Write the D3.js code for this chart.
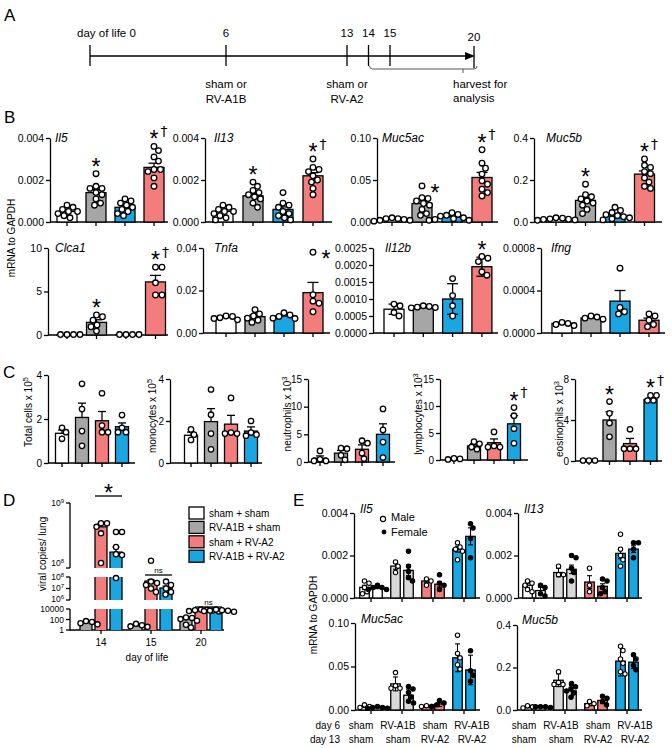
<!DOCTYPE html>
<html>
<head>
<meta charset="utf-8">
<script src="https://cdn.jsdelivr.net/npm/d3@7"></script>
<style>
 html,body{margin:0;padding:0;background:#fff;}
 svg{display:block;}
 text{font-family:"Liberation Sans", Arial, Helvetica, sans-serif; fill:#000;}
</style>
</head>
<body>
<svg id="fig" width="672" height="748"></svg>
<script>
// ===================== DATA =====================
// Panel A – timeline
const timelineDays = [0, 6, 13, 14, 15, 20];
const timelineTickLabels = ["day of life 0", "6", "13", "14", "15", "20"];
const infectionDays = [6, 13];
const infectionLabels = [["sham or", "RV-A1B"], ["sham or", "RV-A2"]];
const harvestDays = [14, 20];
const harvestLabel = ["harvest for", "analysis"];

// Groups (legend)
const groupNames = ["sham + sham", "RV-A1B + sham", "sham + RV-A2", "RV-A1B + RV-A2"];
const groupColors = ["#ffffff", "#a6a6a6", "#f37d7d", "#1aa6e0"];

// Panel B – bar colours in drawing order
const bColors = ["#ffffff", "#a6a6a6", "#1aa6e0", "#f37d7d"];
const il5Mean = [0.0005, 0.0014, 0.0007, 0.0026];
const il5Err = [0.00008, 0.00015, 0.00009, 0.0002];
const il5Pts = [[0.0008,0.0007,0.0006,0.0005,0.0005,0.0004,0.0003,0.0002],
  [0.0023,0.0017,0.0016,0.0016,0.0014,0.0013,0.0011,0.0009,0.0008],
  [0.0011,0.001,0.0009,0.0008,0.0007,0.0006,0.0005,0.0004,0.0003],
  [0.0036,0.0034,0.0031,0.0029,0.0025,0.0025,0.0024,0.0021,0.0017]];
const il5Sig = ["", "*", "", "*†"];

const il13Mean = [0.0005, 0.00125, 0.0006, 0.0022];
const il13Err = [0.00008, 0.00012, 0.00012, 0.00015];
const il13Pts = [[0.0008,0.0007,0.0006,0.0005,0.0005,0.0004,0.0003,0.0002,0.0001],
  [0.0019,0.0017,0.0015,0.0014,0.0013,0.0012,0.0011,0.0009,0.0007],
  [0.0014,0.0009,0.0008,0.0007,0.0005,0.0004,0.0003,0.0002,0.0001],
  [0.003,0.0026,0.0025,0.0024,0.0022,0.002,0.0019,0.0016,0.0013]];
const il13Sig = ["", "*", "", "*†"];

const muc5acMean = [0.003, 0.022, 0.006, 0.053];
const muc5acErr = [0.0005, 0.003, 0.001, 0.006];
const muc5acPts = [[0.005,0.004,0.004,0.003,0.002,0.002,0.001],
  [0.043,0.029,0.028,0.025,0.022,0.02,0.015,0.01,0.008],
  [0.011,0.009,0.008,0.007,0.005,0.004,0.003,0.002,0.002],
  [0.086,0.07,0.064,0.057,0.049,0.045,0.039,0.035,0.031]];
const muc5acSig = ["", "*", "", "*†"];

const muc5bMean = [0.015, 0.103, 0.035, 0.228];
const muc5bErr = [0.002, 0.012, 0.006, 0.015];
const muc5bPts = [[0.02,0.018,0.015,0.013,0.012,0.01,0.008],
  [0.18,0.13,0.12,0.11,0.1,0.09,0.08,0.06,0.04],
  [0.07,0.055,0.045,0.035,0.03,0.025,0.02,0.015,0.01],
  [0.3,0.27,0.26,0.24,0.23,0.21,0.19,0.17,0.16]];
const muc5bSig = ["", "*", "", "*†"];

const clca1Mean = [0.05, 1.45, 0.05, 6.1];
const clca1Err = [0, 0.3, 0, 0.75];
const clca1Pts = [[0.05,0.05,0.05,0.05],[2.3,2.1,1.7,1.15,0.95,0.45],[0.05,0.05,0.05,0.05],[7.8,7.8,6.0,4.6,4.6]];
const clca1Sig = ["", "*", "", "*†"];

const tnfaMean = [0.0073, 0.0077, 0.008, 0.019];
const tnfaErr = [0.0004, 0.0008, 0.0006, 0.0048];
const tnfaPts = [[0.008,0.0078,0.0072,0.0068,0.0062],[0.011,0.009,0.008,0.007,0.006,0.005],
  [0.0095,0.0085,0.0078,0.007,0.0068],[0.038,0.018,0.015,0.014,0.01]];
const tnfaSig = ["", "", "", "*"];

const il12bMean = [0.0007, 0.00077, 0.001, 0.00195];
const il12bSD = [0.00015, 0.00003, 0.00045, 0.00028];
const il12bPts = [[0.00085,0.0008,0.0006,0.0005],[0.0008,0.00078,0.00076,0.00075,0.00074],
  [0.0016,0.0011,0.0008,0.0005],[0.00225,0.0022,0.0021,0.0018,0.0017]];
const il12bSig = ["", "", "", "*"];

const ifngMean = [0.00009, 0.00014, 0.0003, 0.00012];
const ifngErr = [0.00001, 0.00001, 0.0001, 0.00002];
const ifngPts = [[0.0001,0.00009,0.00008,0.00007],[0.00016,0.00015,0.00014,0.00013],
  [0.00061,0.00024,0.0002,0.00018],[0.00018,0.00016,0.00012,0.00008,0.00006]];

// Panel C – order: sham+sham, RV-A1B+sham, sham+RV-A2, RV-A1B+RV-A2
const cColors = ["#ffffff", "#a6a6a6", "#f37d7d", "#1aa6e0"];
const totalMean = [1.35, 2.07, 1.92, 1.65];
const totalErr = [0.15, 0.65, 0.42, 0.17];
const totalPts = [[1.6,1.4,1.1],[3.6,2.45,1.45,0.78],[3.17,1.7,1.4,1.4],[2.18,1.6,1.4,1.4]];
const monoMean = [1.32, 1.97, 1.85, 1.52];
const monoErr = [0.15, 0.62, 0.42, 0.2];
const monoPts = [[1.6,1.35,1.1],[3.5,2.3,1.4,0.65],[3.1,1.45,1.4,1.4],[2.0,1.45,1.35,1.3]];
const neutMean = [0.7, 1.6, 2.3, 5.0];
const neutErr = [0.4, 0.5, 0.8, 1.9];
const neutPts = [[2.0,0.5,0.2,0.2],[2.5,2.4,1.2,0.4],[3.85,3.4,1.6,0.6],[9.6,5.8,3.6,0.8]];
const lymphMean = [0.2, 2.6, 3.2, 6.7];
const lymphErr = [0.05, 0.4, 0.7, 1.5];
const lymphPts = [[0.3,0.2,0.1],[3.4,3.0,2.4,2.0],[5.2,2.6,2.4,2.4],[9.7,8.2,5.8,3.1]];
const lymphSig = ["", "", "", "*†"];
const eosMean = [0.05, 4.0, 1.7, 6.0];
const eosErr = [0, 0.8, 0.5, 0.15];
const eosPts = [[0.05,0.05,0.05],[5.8,4.65,3.7,2.36],[3.1,1.2,1.2,1.2],[6.4,6.4,5.9,5.9]];
const eosSig = ["", "*", "", "*†"];

// Panel D – viral copies per lung (series: RV-A1B+sham, sham+RV-A2, RV-A1B+RV-A2)
const dDays = ["14", "15", "20"];
const dColors = ["#a6a6a6", "#f37d7d", "#1aa6e0"];
const dMean = [[25, 6.7e8, 3.2e8], [6, 4.5e7, 1.1e7], [160, 6300, 5000]];
const dErr = [[15, 0.5e8, 0.7e8], [4, 1.5e7, 0.5e7], [90, 1800, 1500]];
const dPts = [
  [[50, 35, 20, 12], [7.2e8, 7.2e8, 6.7e8, 5.8e8, 1.7e8], [6.0e8, 6.0e8, 3.9e8, 2.9e8, 2.8e8, 8e7]],
  [[15, 8, 5, 4], [2e8, 4e7, 3e7, 2e7, 1e7, 5e6], [4e7, 2e7, 1e7, 5e6, 3e6]],
  [[250, 200, 120, 60, 10, 3], [8000, 7000, 6000, 5000, 4000, 3500], [8000, 6000, 5000, 4500, 4000, 3000]]
];
const dSig = ["*", "ns", "ns"];

// Panel E – per pair: Male, Female
const eColors = ["#ffffff", "#d9d9d9", "#f37d7d", "#1aa6e0"];
const eDay6 = ["sham", "RV-A1B", "sham", "RV-A1B"];
const eDay13 = ["sham", "sham", "RV-A2", "RV-A2"];
const eIl5Mean = [0.0005, 0.00048, 0.0015, 0.0013, 0.0008, 0.00065, 0.0023, 0.0029];
const eIl5SD = [0.0001, 0.00004, 0.00015, 0.00025, 0.00008, 0.00013, 0.00014, 0.0004];
const eIl5Pts = [[0.0008,0.0007,0.0005,0.0003,0.0002],[0.0006,0.0005,0.0005,0.0004,0.0004],
  [0.0017,0.0015,0.0012],[0.0022,0.0015,0.00125,0.00095,0.0008],
  [0.0009,0.0008,0.0006],[0.0011,0.0007,0.0006,0.0004],
  [0.0026,0.0024,0.0023,0.0022,0.0018],[0.0035,0.0033,0.0028,0.0019]];
const eIl13Mean = [0.0006, 0.00035, 0.0012, 0.00135, 0.00075, 0.00055, 0.0021, 0.0023];
const eIl13SD = [0.0001, 0.00015, 0.0002, 0.0002, 0.0003, 0.00012, 0.00025, 0.00016];
const eIl13Pts = [[0.0008,0.0007,0.0006,0.0004,0.0003],[0.0006,0.0005,0.0002,0.0001],
  [0.0015,0.0011,0.0011],[0.002,0.0019,0.0014,0.0012,0.0008],
  [0.0014,0.0006,0.0003],[0.0009,0.0008,0.0005,0.0003,0.0002],
  [0.003,0.0023,0.002,0.0018,0.0015],[0.0026,0.0026,0.0023,0.0019]];
const eMuc5acMean = [0.004, 0.003, 0.03, 0.017, 0.004, 0.007, 0.06, 0.046];
const eMuc5acSD = [0.001, 0.0005, 0.008, 0.007, 0.0005, 0.003, 0.016, 0.017];
const eMuc5acPts = [[0.006,0.004,0.003],[0.004,0.003,0.003,0.002,0.002],
  [0.043,0.028,0.025,0.025],[0.027,0.024,0.02,0.015,0.01,0.008],
  [0.005,0.004,0.004],[0.011,0.008,0.006,0.004],
  [0.086,0.065,0.06,0.052,0.047],[0.068,0.045,0.04,0.033]];
const eMuc5bMean = [0.015, 0.015, 0.14, 0.09, 0.03, 0.045, 0.23, 0.225];
const eMuc5bSD = [0.005, 0.002, 0.03, 0.025, 0.01, 0.015, 0.07, 0.03];
const eMuc5bPts = [[0.02,0.015,0.01],[0.015,0.015,0.015,0.012],
  [0.18,0.13,0.12,0.12],[0.125,0.11,0.1,0.09,0.08,0.06],
  [0.04,0.03,0.02],[0.065,0.055,0.04,0.025],
  [0.3,0.28,0.24,0.22,0.18,0.17],[0.26,0.24,0.21,0.19]];

// ===================== DRAWING =====================
const svg = d3.select("#fig");
const SW = 1.3;

function txt(g, x, y, s, o = {}) {
  const t = g.append("text").attr("x", x).attr("y", y).text(s).style("font-size", (o.fs || 11) + "px");
  if (o.anchor) t.attr("text-anchor", o.anchor);
  if (o.italic) t.style("font-style", "italic");
  return t;
}
function line(g, x1, y1, x2, y2, w = SW) {
  return g.append("line").attr("x1", x1).attr("y1", y1).attr("x2", x2).attr("y2", y2)
    .attr("stroke", "#000").attr("stroke-width", w);
}
function styleAxis(a, fs) {
  a.attr("font-family", null).attr("font-size", null);
  a.select(".domain").attr("stroke", "#000").attr("stroke-width", SW);
  a.selectAll(".tick line").attr("stroke", "#000").attr("stroke-width", SW);
  a.selectAll(".tick text").attr("fill", "#000").style("font-size", fs + "px");
}
function swarm(ys, r) {
  const order = d3.range(ys.length).sort((a, b) => ys[a] - ys[b]);
  const placed = [], off = new Array(ys.length).fill(0), dmin = 1.75 * r;
  for (const i of order) {
    let best = 0;
    for (let k = 0; k < 400; k++) {
      const c = (k % 2 ? 1 : -1) * Math.ceil(k / 2) * 0.5;
      if (placed.every(p => (p.x - c) ** 2 + (p.y - ys[i]) ** 2 >= dmin * dmin)) { best = c; break; }
    }
    off[i] = best; placed.push({ x: best, y: ys[i] });
  }
  return off;
}
function star(g, cx, cy, dagger) {
  g.append("text").attr("x", cx).attr("y", cy + 13).attr("text-anchor", "middle").style("font-size", "23px").text("*");
  if (dagger) g.append("text").attr("x", cx + 10).attr("y", cy + 1.5).attr("text-anchor", "middle")
    .style("font-size", "14px").style("font-family", "'DejaVu Sans', sans-serif").text("†");
}
function rotLabel(g, x, y, main, sup, fs) {
  const t = g.append("text").attr("transform", `translate(${x},${y}) rotate(-90)`)
    .attr("text-anchor", "middle").style("font-size", fs + "px");
  t.append("tspan").text(main);
  if (sup) t.append("tspan").attr("dy", -fs * 0.45).style("font-size", (fs * 0.75) + "px").text(sup);
  return t;
}
function panelLetter(x, y, s) { txt(svg, x, y, s, { fs: 17 }); }

function barPanel(o) {
  const g = svg.append("g");
  const n = o.means.length;
  const x = d3.scalePoint().domain(d3.range(n)).range([o.c0, o.c0 + o.step * (n - 1)]);
  const y = d3.scaleLinear().domain([0, o.max]).range([o.yB, o.yT]);
  const ax = g.append("g").attr("transform", `translate(${o.x0},0)`)
    .call(d3.axisLeft(y).tickValues(o.ticks).tickFormat(d3.format(o.fmt)).tickSize(4).tickSizeOuter(0).tickPadding(2));
  styleAxis(ax, o.fs || 10.5);
  line(g, o.x0, o.yB, o.xEnd, o.yB);
  x.domain().forEach(i => line(g, x(i), o.yB, x(i), o.yB + 4));
  g.selectAll("rect.bar").data(o.means).join("rect").attr("class", "bar")
    .attr("x", (d, i) => x(i) - o.bw / 2).attr("y", d => y(d))
    .attr("width", o.bw).attr("height", d => o.yB - y(d))
    .attr("fill", (d, i) => o.colors[i]).attr("stroke", "#000").attr("stroke-width", SW);
  const cap = o.cap || o.bw * 0.55;
  o.means.forEach((m, i) => {
    const e = o.errs[i]; if (!e) return;
    const yt = y(m + e), yb = o.both ? y(Math.max(0, m - e)) : y(m);
    line(g, x(i), yb, x(i), yt);
    line(g, x(i) - cap / 2, yt, x(i) + cap / 2, yt);
    if (o.both) line(g, x(i) - cap / 2, yb, x(i) + cap / 2, yb);
  });
  const r = o.r || 2.8;
  o.pts.forEach((arr, i) => {
    const ys = arr.map(v => y(v));
    const off = swarm(ys, r + SW / 2);
    g.selectAll(null).data(arr).join("circle")
      .attr("cx", (d, k) => x(i) + off[k]).attr("cy", d => y(d)).attr("r", r)
      .attr("fill", "#fff").attr("stroke", "#000").attr("stroke-width", SW);
  });
  if (o.label) txt(g, o.lx, o.ly, o.label, { fs: 12, italic: true });
  if (o.sig) o.sig.forEach((s, i) => {
    if (!s) return;
    const top = d3.min(o.pts[i], v => y(v));
    if (o.sideIdx === i) star(g, x(i) + 13, top + 2, false);
    else star(g, x(i), top - 12, s.includes("†"));
  });
  return { g, x, y };
}

// ---------- Panel A ----------
panelLetter(4, 21, "A");
(function () {
  const g = svg.append("g");
  const tx = d3.scaleLinear().domain([0, 6, 13, 15, 20]).range([90, 226, 347, 390, 474]);
  const ly = 56;
  line(g, tx(0), ly, tx(20) - 6, ly, 1.6);
  g.append("path").attr("d", `M${tx(20) + 1},${ly} L${tx(20) - 9},${ly - 4} L${tx(20) - 9},${ly + 4} Z`).attr("fill", "#000");
  timelineDays.forEach((d, i) => {
    const last = d === 20;
    line(g, tx(d), last ? 46 : 45, tx(d), last ? 68 : 66, 1.3);
    if (i === 0) txt(g, tx(d) - 13, 37, timelineTickLabels[i], { fs: 11.5 });
    else txt(g, tx(d), last ? 41 : 37, timelineTickLabels[i], { fs: 11.5, anchor: "middle" });
  });
  infectionDays.forEach((d, i) => {
    txt(g, tx(d), 88, infectionLabels[i][0], { fs: 11.5, anchor: "middle" });
    txt(g, tx(d), 103, infectionLabels[i][1], { fs: 11.5, anchor: "middle" });
  });
  const bx0 = tx(harvestDays[0]) + 1, bx1 = tx(harvestDays[1]) + 3, by = 69;
  g.append("path").attr("d", `M${bx0},${by - 3} Q${bx0},${by} ${bx0 + 3},${by} L${bx1 - 3},${by} Q${bx1},${by} ${bx1},${by - 3}`)
    .attr("fill", "none").attr("stroke", "#555").attr("stroke-width", 1);
  line(g, bx1 - 14, by, bx1 - 14, by + 4, 1).attr("stroke", "#555");
  txt(g, bx1 - 24, 88, harvestLabel[0], { fs: 11.5 });
  txt(g, bx1 - 24, 102, harvestLabel[1], { fs: 11.5 });
})();

// ---------- Panel B ----------
panelLetter(4, 123, "B");
rotLabel(svg, 15, 238, "mRNA  to GAPDH", null, 10);
barPanel({ x0: 50, xEnd: 168, c0: 67, step: 29, bw: 20, yB: 222, yT: 138, max: 0.004, ticks: [0, 0.002, 0.004], fmt: ".3f",
  means: il5Mean, errs: il5Err, pts: il5Pts, colors: bColors, label: "Il5", lx: 55, ly: 142, sig: il5Sig });
barPanel({ x0: 205, xEnd: 332, c0: 223, step: 30, bw: 20, yB: 222, yT: 138, max: 0.004, ticks: [0, 0.002, 0.004], fmt: ".3f",
  means: il13Mean, errs: il13Err, pts: il13Pts, colors: bColors, label: "Il13", lx: 214, ly: 142, sig: il13Sig });
barPanel({ x0: 377, xEnd: 498, c0: 392, step: 30, bw: 20, yB: 222, yT: 138, max: 0.10, ticks: [0, 0.05, 0.10], fmt: ".2f",
  means: muc5acMean, errs: muc5acErr, pts: muc5acPts, colors: bColors, label: "Muc5ac", lx: 382, ly: 142, sig: muc5acSig, sideIdx: 1 });
barPanel({ x0: 534, xEnd: 662, c0: 556, step: 29.5, bw: 20, yB: 222, yT: 138, max: 0.4, ticks: [0, 0.2, 0.4], fmt: ".1f",
  means: muc5bMean, errs: muc5bErr, pts: muc5bPts, colors: bColors, label: "Muc5b", lx: 546, ly: 142, sig: muc5bSig });
barPanel({ x0: 48, xEnd: 168, c0: 67, step: 29.5, bw: 20, yB: 335, yT: 248, max: 10, ticks: [0, 5, 10], fmt: "d",
  means: clca1Mean, errs: clca1Err, pts: clca1Pts, colors: bColors, label: "Clca1", lx: 55, ly: 252, sig: clca1Sig });
barPanel({ x0: 203, xEnd: 330, c0: 226, step: 29, bw: 20, yB: 333, yT: 248, max: 0.04, ticks: [0, 0.02, 0.04], fmt: ".2f",
  means: tnfaMean, errs: tnfaErr, pts: tnfaPts, colors: bColors, label: "Tnfa", lx: 214, ly: 252, sig: tnfaSig, sideIdx: 3 });
barPanel({ x0: 373, xEnd: 498, c0: 394, step: 29.3, bw: 20, yB: 333, yT: 248, max: 0.0025,
  ticks: [0, 0.0005, 0.001, 0.0015, 0.002, 0.0025], fmt: ".4f", both: true,
  means: il12bMean, errs: il12bSD, pts: il12bPts, colors: bColors, label: "Il12b", lx: 385, ly: 252, sig: il12bSig });
barPanel({ x0: 541, xEnd: 665, c0: 562, step: 29, bw: 20, yB: 333, yT: 248, max: 0.0008, ticks: [0, 0.0004, 0.0008], fmt: ".4f",
  means: ifngMean, errs: ifngErr, pts: ifngPts, colors: bColors, label: "Ifng", lx: 551, ly: 252 });

// ---------- Panel C ----------
panelLetter(3, 378, "C");
const cCommon = { bw: 13, fs: 10, r: 2.7, cap: 8 };
barPanel(Object.assign({ x0: 48, xEnd: 135, c0: 62, step: 20, yB: 463, yT: 375, max: 4, ticks: [0, 2, 4], fmt: "d",
  means: totalMean, errs: totalErr, pts: totalPts, colors: cColors }, cCommon));
rotLabel(svg, 32, 412, "Total cells x 10", "5", 10);
barPanel(Object.assign({ x0: 170, xEnd: 262, c0: 191, step: 20, yB: 463, yT: 379, max: 4, ticks: [0, 2, 4], fmt: "d",
  means: monoMean, errs: monoErr, pts: monoPts, colors: cColors }, cCommon));
rotLabel(svg, 156, 416, "monocytes x 10", "5", 10);
barPanel(Object.assign({ x0: 308, xEnd: 395, c0: 320, step: 21, yB: 462, yT: 379, max: 15, ticks: [0, 5, 10, 15], fmt: "d",
  means: neutMean, errs: neutErr, pts: neutPts, colors: cColors }, cCommon));
rotLabel(svg, 291, 414, "neutrophils x 10", "3", 10);
barPanel(Object.assign({ x0: 440, xEnd: 528, c0: 454, step: 20, yB: 460, yT: 379, max: 15, ticks: [0, 5, 10, 15], fmt: "d",
  means: lymphMean, errs: lymphErr, pts: lymphPts, colors: cColors, sig: lymphSig }, cCommon));
rotLabel(svg, 422, 414, "lymphocytes x 10", "3", 10);
barPanel(Object.assign({ x0: 575, xEnd: 662, c0: 589, step: 20.5, yB: 461, yT: 379, max: 8, ticks: [0, 4, 8], fmt: "d",
  means: eosMean, errs: eosErr, pts: eosPts, colors: cColors, sig: eosSig }, cCommon));
rotLabel(svg, 563, 419, "eosinophils x 10", "3", 10);

// ---------- Panel D ----------
panelLetter(3, 506, "D");
(function () {
  const g = svg.append("g");
  const x0 = 70;
  const xd = d3.scaleBand().domain(dDays).range([76, 226]);
  const xs = d3.scalePoint().domain([0, 1, 2]).range([-15, 15]);
  const cx = (di, sj) => xd(dDays[di]) + xd.bandwidth() / 2 + xs(sj);
  const segs = [
    { s: d3.scaleLinear().domain([1e8, 1e9]).range([568, 503]), lo: 1e8, hi: 1e9, ticks: [1e8, 1e9], sup: true, shift: [-2, 3] },
    { s: d3.scaleLog().domain([1e6, 1e8]).range([600, 577]), lo: 1e6, hi: 1e8, ticks: [1e6, 1e7, 1e8], sup: true, shift: [2, 2.5, 3] },
    { s: d3.scaleLog().domain([1, 1e4]).range([630, 609]), lo: 1, hi: 1e4, ticks: [1, 100, 1e4], sup: false, shift: [3, 3, 3] }
  ];
  const segOf = v => v >= 1e8 ? segs[0] : v >= 1e6 ? segs[1] : segs[2];
  const yOf = v => segOf(v).s(v);
  segs.forEach(sg => {
    line(g, x0, sg.s(sg.lo) + (sg === segs[2] ? 0.6 : 0), x0, sg.s(sg.hi));
    sg.ticks.forEach((t, ti) => {
      line(g, x0 - 4, sg.s(t), x0, sg.s(t));
      const yy = sg.s(t) + sg.shift[ti];
      if (sg.sup) {
        const tt = g.append("text").attr("x", x0 - 6).attr("y", yy).attr("text-anchor", "end").style("font-size", "8.5px");
        tt.append("tspan").text("10");
        tt.append("tspan").attr("dy", -3).style("font-size", "6px").text(String(Math.round(Math.log10(t))));
      } else {
        txt(g, x0 - 6, yy, String(t), { fs: 8.5, anchor: "end" });
      }
    });
  });
  line(g, x0, 630, 224, 630);
  dDays.forEach((d, i) => {
    const c = xd(d) + xd.bandwidth() / 2;
    line(g, c, 630, c, 634);
    txt(g, c, 646, d, { fs: 10, anchor: "middle" });
  });
  txt(g, 147, 661, "day of life", { fs: 10, anchor: "middle" });
  rotLabel(g, 46, 554, "viral copies/ lung", null, 10);
  const bw = 12;
  dMean.forEach((row, di) => row.forEach((v, sj) => {
    const x = cx(di, sj);
    segs.forEach(sg => {
      if (v <= sg.lo) return;
      const yt = sg.s(Math.min(v, sg.hi)), yb = sg.s(sg.lo);
      g.append("rect").attr("x", x - bw / 2).attr("y", yt).attr("width", bw).attr("height", yb - yt).attr("fill", dColors[sj]);
      line(g, x - bw / 2, yb, x - bw / 2, yt);
      line(g, x + bw / 2, yb, x + bw / 2, yt);
      if (v <= sg.hi) line(g, x - bw / 2 - SW / 2, yt, x + bw / 2 + SW / 2, yt);
    });
    const e = dErr[di][sj];
    const sg = segOf(v);
    const yt = sg.s(Math.min(v + e, sg.hi));
    line(g, x, sg.s(v), x, yt);
    line(g, x - 3.5, yt, x + 3.5, yt);
  }));
  dPts.forEach((row, di) => row.forEach((arr, sj) => {
    const ys = arr.map(yOf);
    const off = swarm(ys, 2.6 + SW / 2);
    g.selectAll(null).data(arr).join("circle")
      .attr("cx", (d, k) => cx(di, sj) + off[k]).attr("cy", d => yOf(d)).attr("r", 2.6)
      .attr("fill", "#fff").attr("stroke", "#000").attr("stroke-width", SW);
  }));
  dSig.forEach((s, di) => {
    const x1 = cx(di, 1) - 6, x2 = cx(di, 2) + 6;
    const mSeg = segOf(Math.max(dMean[di][1], dMean[di][2]));
    const inSeg = dPts[di][1].concat(dPts[di][2]).filter(v => segOf(v) === mSeg).map(v => mSeg.s(v));
    const by = Math.min(d3.min(inSeg), mSeg.s(mSeg.hi)) - (s === "*" ? 7 : 2);
    line(g, x1, by, x2, by);
    if (s === "*") star(g, (x1 + x2) / 2, by - 8, false);
    else txt(g, (x1 + x2) / 2, by - 2.5, s, { fs: 8, anchor: "middle" });
  });
  groupNames.forEach((nm, i) => {
    const yy = 507 + i * 14.4;
    g.append("rect").attr("x", 189).attr("y", yy).attr("width", 15).attr("height", 12)
      .attr("fill", groupColors[i]).attr("stroke", "#000").attr("stroke-width", SW);
    txt(g, 209, yy + 10, nm, { fs: 10 });
  });
})();

// ---------- Panel E ----------
panelLetter(293, 506, "E");
function ePanel(o) {
  const g = svg.append("g");
  const x = d3.scalePoint().domain(d3.range(4)).range([o.c0, o.c0 + o.step * 3]);
  const sx = d3.scalePoint().domain([0, 1]).range([-6.5, 6.5]);
  const y = d3.scaleLinear().domain([0, o.max]).range([o.yB, o.yT]);
  const ax = g.append("g").attr("transform", `translate(${o.x0},0)`)
    .call(d3.axisLeft(y).tickValues(o.ticks).tickFormat(d3.format(o.fmt)).tickSize(4).tickSizeOuter(0).tickPadding(2));
  styleAxis(ax, 10.5);
  line(g, o.x0, o.yB, o.xEnd, o.yB);
  d3.range(4).forEach(i => line(g, x(i), o.yB, x(i), o.yB + 4));
  const bw = 9.5, r = 2.2;
  const bx = j => x(j >> 1) + sx(j & 1);
  o.means.forEach((m, j) => {
    g.append("rect").attr("x", bx(j) - bw / 2).attr("y", y(m)).attr("width", bw).attr("height", o.yB - y(m))
      .attr("fill", eColors[j >> 1]).attr("stroke", "#000").attr("stroke-width", SW);
  });
  o.means.forEach((m, j) => {
    const e = o.errs[j], yt = y(m + e), yb = y(Math.max(0, m - e));
    line(g, bx(j), yb, bx(j), yt, 1.1);
    line(g, bx(j) - 2.5, yt, bx(j) + 2.5, yt, 1.1);
    line(g, bx(j) - 2.5, yb, bx(j) + 2.5, yb, 1.1);
  });
  o.pts.forEach((arr, j) => {
    const ys = arr.map(v => y(v));
    const off = swarm(ys, r + 0.6);
    g.selectAll(null).data(arr).join("circle")
      .attr("cx", (d, k) => bx(j) + off[k]).attr("cy", d => y(d)).attr("r", r)
      .attr("fill", (j & 1) ? "#000" : "#fff").attr("stroke", "#000").attr("stroke-width", 1.1);
  });
  txt(g, o.lx, o.ly, o.label, { fs: 12, italic: true });
  if (o.xlabels) {
    const xl = d3.scalePoint().domain(d3.range(4)).range([o.c0 - 10, o.c0 + o.step * 3 + 8]);
    d3.range(4).forEach(i => {
      txt(g, xl(i), 729, eDay6[i], { fs: 10, anchor: "middle" });
      txt(g, xl(i), 743, eDay13[i], { fs: 10, anchor: "middle" });
    });
  }
}
ePanel({ x0: 354, xEnd: 480, c0: 371, step: 31, yB: 598, yT: 513, max: 0.004, ticks: [0, 0.002, 0.004], fmt: ".3f",
  means: eIl5Mean, errs: eIl5SD, pts: eIl5Pts, label: "Il5", lx: 360, ly: 513 });
ePanel({ x0: 518, xEnd: 642, c0: 534, step: 31, yB: 598, yT: 513, max: 0.004, ticks: [0, 0.002, 0.004], fmt: ".3f",
  means: eIl13Mean, errs: eIl13SD, pts: eIl13Pts, label: "Il13", lx: 524, ly: 513 });
ePanel({ x0: 355, xEnd: 480, c0: 371, step: 31, yB: 710, yT: 623, max: 0.10, ticks: [0, 0.05, 0.10], fmt: ".2f",
  means: eMuc5acMean, errs: eMuc5acSD, pts: eMuc5acPts, label: "Muc5ac", lx: 361, ly: 623, xlabels: true });
ePanel({ x0: 517, xEnd: 642, c0: 534, step: 31, yB: 710, yT: 625, max: 0.4, ticks: [0, 0.2, 0.4], fmt: ".1f",
  means: eMuc5bMean, errs: eMuc5bSD, pts: eMuc5bPts, label: "Muc5b", lx: 522, ly: 624, xlabels: true });
txt(svg, 340, 729, "day 6", { fs: 10, anchor: "end" });
txt(svg, 340, 743, "day 13", { fs: 10, anchor: "end" });
rotLabel(svg, 317, 615, "mRNA to GAPDH", null, 10);
svg.append("circle").attr("cx", 383).attr("cy", 519).attr("r", 2.6).attr("fill", "#fff").attr("stroke", "#000").attr("stroke-width", 1.1);
txt(svg, 391, 521, "Male", { fs: 11 });
svg.append("circle").attr("cx", 384).attr("cy", 532).attr("r", 2.4).attr("fill", "#000");
txt(svg, 391, 536, "Female", { fs: 11 });
</script>
</body>
</html>
